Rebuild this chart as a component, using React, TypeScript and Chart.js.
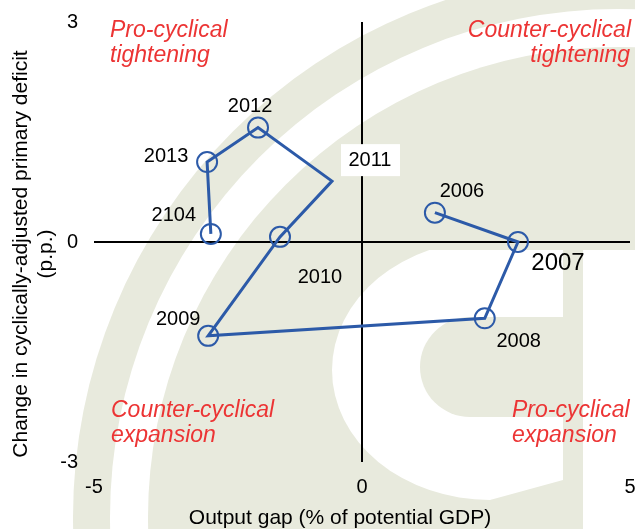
import { useEffect, useRef } from 'react';
import { Chart, registerables } from 'chart.js';

Chart.register(...registerables);

// ---- data ----
const years = ['2006', '2007', '2008', '2009', '2010', '2011', '2012', '2013', '2104'];
const outputGap = [1.36, 2.91, 2.29, -2.87, -1.53, -0.56, -1.94, -2.89, -2.82];
const deficitChange = [0.40, 0.0, -1.04, -1.28, 0.07, 0.83, 1.56, 1.09, 0.11];
const hasMarker = [true, true, true, true, true, false, true, true, true];
const xTicks = [-5, 0, 5];
const yTicks = [-3, 0, 3];
const xTitle = 'Output gap (% of potential GDP)';
const yTitle = ['Change in cyclically-adjusted primary deficit', '(p.p.)'];

// ---- label layout (pixel offsets from each point) ----
const labelOffsets: [number, number][] = [
  [27, -21], [40, 21], [34, 23], [-30, -16], [40, 41], [38, -21], [-8, -21], [-41, -6], [-37, -18],
];
const labelBig = [false, true, false, false, false, false, false, false, false];
const labelBoxed = [false, false, false, false, false, true, false, false, false];

const FONT = "'Liberation Sans', Arial, Helvetica, sans-serif";
const LINE_COLOR = '#2c5aa8';
const RED = 'rgb(236,52,52)';
const BEIGE = 'rgb(232,234,221)';
const CLEAR = 'rgba(0,0,0,0)';

function circlePath(ctx: CanvasRenderingContext2D, x: number, y: number, r: number) {
  ctx.beginPath();
  ctx.arc(x, y, r, 0, Math.PI * 2);
}

const watermarkPlugin = {
  id: 'watermark',
  beforeDraw(chart: any) {
    const ctx: CanvasRenderingContext2D = chart.ctx;
    const w = chart.width;
    const h = chart.height;
    ctx.save();
    ctx.fillStyle = '#ffffff';
    ctx.fillRect(0, 0, w, h);
    const cx = 618, cy = 517;
    ctx.fillStyle = BEIGE;
    circlePath(ctx, cx, cy, 545); ctx.fill();
    ctx.fillStyle = '#ffffff';
    circlePath(ctx, cx, cy, 508); ctx.fill();
    ctx.fillStyle = BEIGE;
    circlePath(ctx, cx, cy, 470); ctx.fill();
    // white "C"
    ctx.save();
    ctx.beginPath();
    ctx.rect(0, 250, w, h - 250);
    ctx.clip();
    ctx.fillStyle = '#ffffff';
    ctx.beginPath();
    ctx.ellipse(490, 370, 158, 130, 0, 0, Math.PI * 2);
    ctx.fill();
    ctx.fillRect(520, 250, w - 520, h - 250);
    ctx.restore();
    // inner blob
    ctx.fillStyle = BEIGE;
    ctx.beginPath();
    ctx.moveTo(470, 317);
    ctx.lineTo(570, 317);
    ctx.lineTo(570, 417);
    ctx.lineTo(470, 417);
    ctx.arc(470, 367, 50, Math.PI / 2, Math.PI * 1.5);
    ctx.closePath();
    ctx.fill();
    // bottom arm left of the bar
    ctx.beginPath();
    ctx.moveTo(490, 500);
    ctx.lineTo(563, 480);
    ctx.lineTo(563, 529);
    ctx.lineTo(490, 529);
    ctx.closePath();
    ctx.fill();
    // vertical bar
    ctx.fillRect(563, 250, 20, h - 250);
    ctx.restore();
  },
};

const annotationsPlugin = {
  id: 'annotations',
  afterDatasetsDraw(chart: any) {
    const ctx: CanvasRenderingContext2D = chart.ctx;
    const area = chart.chartArea;
    const meta = chart.getDatasetMeta(0);
    ctx.save();
    // data labels
    years.forEach((label, i) => {
      const pt = meta.data[i];
      if (!pt) return;
      const [dx, dy] = labelOffsets[i];
      const x = pt.x + dx;
      const y = pt.y + dy;
      ctx.font = `${labelBig[i] ? 24 : 20}px ${FONT}`;
      if (labelBoxed[i]) {
        ctx.fillStyle = '#ffffff';
        ctx.fillRect(x - 29, y - 16, 59, 32);
      }
      ctx.fillStyle = '#000000';
      ctx.textAlign = 'center';
      ctx.textBaseline = 'middle';
      ctx.fillText(label, x, y);
    });
    // quadrant labels
    ctx.fillStyle = RED;
    ctx.font = `italic 23px ${FONT}`;
    ctx.textBaseline = 'alphabetic';
    ctx.textAlign = 'left';
    ctx.fillText('Pro-cyclical', area.left + 16, area.top + 15);
    ctx.fillText('tightening', area.left + 16, area.top + 40);
    ctx.fillText('Counter-cyclical', area.left + 17, area.bottom - 45);
    ctx.fillText('expansion', area.left + 17, area.bottom - 20);
    ctx.fillText('Pro-cyclical', area.right - 118, area.bottom - 45);
    ctx.fillText('expansion', area.right - 118, area.bottom - 20);
    ctx.textAlign = 'right';
    ctx.fillText('Counter-cyclical', area.right + 1, area.top + 15);
    ctx.fillText('tightening', area.right, area.top + 40);
    // axis titles
    ctx.fillStyle = '#000000';
    ctx.font = `21px ${FONT}`;
    ctx.textAlign = 'center';
    ctx.textBaseline = 'middle';
    ctx.fillText(xTitle, (area.left + area.right) / 2 - 22, 518);
    const cyT = (area.top + area.bottom) / 2 + 12;
    ctx.save();
    ctx.translate(21, cyT);
    ctx.rotate(-Math.PI / 2);
    ctx.fillText(yTitle[0], 0, 0);
    ctx.restore();
    ctx.save();
    ctx.translate(46, cyT);
    ctx.rotate(-Math.PI / 2);
    ctx.fillText(yTitle[1], 0, 0);
    ctx.restore();
    ctx.restore();
  },
};

export default function App() {
  const canvasRef = useRef<HTMLCanvasElement | null>(null);

  useEffect(() => {
    const canvas = canvasRef.current;
    if (!canvas) return;
    const points = outputGap.map((x, i) => ({ x, y: deficitChange[i] }));
    const zeroLine = (ctx: any) => (ctx.tick && ctx.tick.value === 0 ? '#000000' : CLEAR);
    const chart = new Chart(canvas, {
      type: 'scatter',
      data: {
        datasets: [
          {
            label: 'Output gap vs change in deficit',
            data: points,
            showLine: true,
            borderColor: LINE_COLOR,
            borderWidth: 3,
            backgroundColor: CLEAR,
            pointRadius: hasMarker.map((m) => (m ? 10 : 0)),
            pointHoverRadius: hasMarker.map((m) => (m ? 10 : 0)),
            pointBorderWidth: 2,
            pointBorderColor: LINE_COLOR,
            pointBackgroundColor: CLEAR,
            tension: 0,
            clip: false,
          },
        ],
      },
      options: {
        responsive: false,
        animation: false,
        layout: { autoPadding: false, padding: { left: 0, right: 5, top: 22, bottom: 0 } },
        plugins: {
          legend: { display: false },
          tooltip: { enabled: false },
          title: { display: false },
        },
        scales: {
          x: {
            type: 'linear',
            min: -5,
            max: 5,
            afterBuildTicks: (scale: any) => {
              scale.ticks = xTicks.map((v) => ({ value: v }));
            },
            afterFit: (scale: any) => {
              scale.height = 67;
              scale.paddingLeft = 0;
              scale.paddingRight = 0;
            },
            ticks: {
              color: '#000000',
              font: { family: FONT, size: 20 },
              padding: 0,
              maxRotation: 0,
              callback: (v: any) => String(v),
            },
            grid: { color: zeroLine, lineWidth: 2, drawTicks: true, tickLength: 13, tickColor: CLEAR },
            border: { display: false },
          },
          y: {
            type: 'linear',
            min: -3,
            max: 3,
            afterBuildTicks: (scale: any) => {
              scale.ticks = yTicks.map((v) => ({ value: v }));
            },
            afterFit: (scale: any) => {
              scale.width = 94;
              scale.paddingTop = 0;
              scale.paddingBottom = 0;
            },
            ticks: {
              color: '#000000',
              font: { family: FONT, size: 20 },
              padding: 0,
              callback: (v: any) => String(v),
            },
            grid: { color: zeroLine, lineWidth: 2, drawTicks: true, tickLength: 16, tickColor: CLEAR },
            border: { display: false },
          },
        },
      } as any,
      plugins: [watermarkPlugin, annotationsPlugin],
    });
    return () => chart.destroy();
  }, []);

  return (
    <div style={{ position: 'absolute', left: 0, top: 0, width: 635, height: 529 }}>
      <canvas ref={canvasRef} width={635} height={529} style={{ display: 'block' }} />
    </div>
  );
}
